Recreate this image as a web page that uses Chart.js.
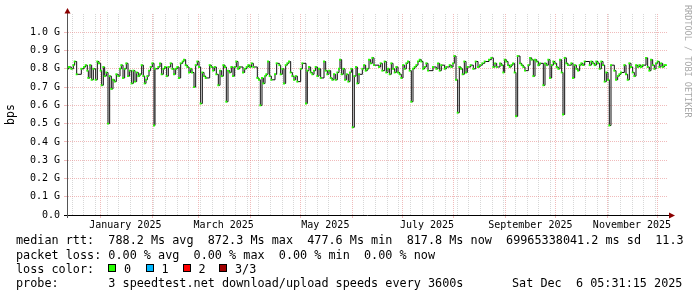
<!DOCTYPE html>
<html lang="en">
<head>
<meta charset="UTF-8">
<title>speedtest</title>
<script src="https://cdn.jsdelivr.net/npm/chart.js"></script>
<style>
  body { margin: 0; background: #fff; }
  #wrap { position: relative; width: 697px; height: 297px; overflow: hidden; font-family: 'DejaVu Sans Mono', monospace; }
  #wrap canvas { position: absolute; left: 0; top: 0; }
  .txt { position: absolute; font-size: 11.8px; line-height: 14.2px; white-space: pre; color: #000; }
  .box { position: absolute; width: 6px; height: 6px; border: 1px solid #000; }
  .stamp { position: absolute; left: 683px; top: 5px; writing-mode: vertical-rl; font-size: 8.5px; line-height: 10px; color: #a8a8a8; }
</style>
</head>
<body>
<div id="wrap">
  <canvas id="grafico" width="697" height="297"></canvas>
  <div class="stamp">RRDTOOL / TOBI OETIKER</div>
  <div class="txt" style="left:16px;top:233.4px">median rtt:  788.2 Ms avg  872.3 Ms max  477.6 Ms min  817.8 Ms now  69965338041.2 ms sd  11.3</div>
  <div class="txt" style="left:16px;top:247.6px">packet loss: 0.00 % avg  0.00 % max  0.00 % min  0.00 % now</div>
  <div class="txt" style="left:16px;top:261.8px">loss color:</div>
  <div id="loss"></div>
  <div class="txt" style="left:16px;top:276px">probe:       3 speedtest.net download/upload speeds every 3600s</div>
  <div class="txt" style="left:512px;top:276px">Sat Dec  6 05:31:15 2025</div>
</div>
<script>
// days counted from 1 Jan 2025, values in G bps (median of the speedtest)
const days = [
  -20.2, -18.8, -17.4, -16.2, -15.4, -14.2, -11.4, -9.8, -8.8, -7.8, -7.2, -6.2, -5.2, -4.2, -2.8, -1.8, -0.8,
  0.2, 0.8, 1.8, 2.6, 3.6, 4.6, 5.6, 6.6, 7.6, 8.6, 9.6, 10.8, 11.8, 12.6, 13.6, 14.6, 15.6, 16.6, 17.6, 18.8, 19.8,
  20.8, 21.8, 22.8, 23.8, 24.8, 25.8, 26.6, 27.4, 28.2, 29.2, 30.2, 31.2, 32.2, 32.8, 34.8, 35.8, 36.8, 37.8, 38.8, 39.8,
  40.8, 42.2, 43.2, 44.2, 45.2, 46.2, 47.2, 48.2, 49.4, 50.2, 51.2, 52.2, 53.2, 54.2, 55.0, 56.2, 57.2, 58.2, 59.2,
  60.2, 61.2, 62.2, 63.2, 65.6, 66.6, 67.6, 68.6, 69.6, 70.8, 71.8, 72.8, 73.8, 74.8, 75.6, 76.6, 77.6, 78.6, 79.6,
  80.6, 81.6, 82.6, 83.6, 85.6, 86.6, 87.8, 88.8, 89.8, 90.8, 91.8, 94.2, 95.2, 96.0, 97.0, 97.8, 98.8,
  99.6, 100.6, 101.6, 102.6, 104.8, 105.8, 107.4, 108.2, 109.2, 110.2, 111.2, 112.2, 113.2, 114.2, 115.2, 116.2, 117.2,
  118.2, 120.2, 121.2, 123.4, 124.2, 125.2, 126.2, 127.2, 128.2, 129.2, 130.2, 131.2, 132.2, 134.2, 135.2, 136.2,
  137.2, 138.2, 139.2, 140.2, 141.2, 142.2, 143.2, 143.8, 144.8, 145.8, 146.8, 147.8, 148.8, 149.8, 150.6, 151.4,
  152.4, 153.4, 154.2, 155.2, 157.2, 158.2, 159.2, 160.2, 161.2, 162.2, 163.2, 164.2, 167.2, 168.2, 169.2, 170.6,
  171.6, 172.6, 173.6, 174.6, 175.6, 176.6, 177.6, 178.6, 179.6, 180.6, 181.6, 182.6, 183.6, 184.6, 185.6, 186.6,
  187.6, 188.6, 189.6, 190.6, 191.6, 192.6, 193.6, 194.6, 195.6, 196.6, 199.6, 201.6, 202.6, 203.6, 204.6, 206.6,
  207.6, 209.6, 210.6, 211.6, 212.4, 213.4, 214.4, 215.4, 216.4, 217.4, 218.4,
  219.4, 220.2, 222.2, 223.8, 225.2, 226.6, 227.8, 229.2, 230.6, 233.2, 234.6, 235.8, 236.8, 237.8, 239.8, 240.8,
  241.8, 242.6, 243.6, 244.6, 245.6, 246.6, 247.6, 248.6, 249.4, 250.4, 251.8, 252.8, 253.8, 254.8, 256.8, 257.8,
  258.8, 259.8, 260.8, 261.8, 262.8, 263.8, 265.8, 266.8, 267.8, 268.8, 269.8, 270.8, 271.8, 272.8, 273.8, 274.8,
  275.8, 276.8, 277.6, 278.6, 279.6, 280.6, 282.6, 283.6, 284.6, 285.6, 286.6, 287.6, 288.6, 289.6, 290.6, 293.6,
  294.6, 295.6, 296.6, 297.6, 298.6, 299.6, 300.6, 301.6, 302.6, 303.6, 304.6, 305.4, 306.4, 308.4, 309.4, 310.4,
  311.4, 312.4, 314.4, 315.4, 316.4, 317.4, 318.4, 319.4, 320.4, 321.4, 322.4, 323.4, 324.4, 325.4, 327.4, 328.4,
  329.4, 330.4, 331.4, 332.4, 333.4, 334.4, 335.4, 336.4, 337.4, 338.4, 339.4
]
const medianG = [
  0.80, 0.81, 0.80, 0.82, 0.84, 0.77, 0.80, 0.81, 0.82, 0.79, 0.75, 0.82, 0.74, 0.80, 0.74, 0.84, 0.83,
  0.79, 0.71, 0.81, 0.76, 0.78, 0.50, 0.76, 0.69, 0.74, 0.73, 0.77, 0.76, 0.80, 0.82, 0.75, 0.80, 0.83, 0.76, 0.79, 0.72, 0.79,
  0.73, 0.78, 0.76, 0.77, 0.82, 0.76, 0.72, 0.74, 0.76, 0.79, 0.81, 0.83, 0.49, 0.80, 0.81, 0.83, 0.77, 0.80, 0.81, 0.76,
  0.81, 0.83, 0.80, 0.77, 0.80, 0.81, 0.75, 0.83, 0.84, 0.85, 0.82, 0.81, 0.78, 0.80, 0.78, 0.70, 0.82, 0.84, 0.81,
  0.61, 0.78, 0.76, 0.75, 0.82, 0.81, 0.79, 0.81, 0.77, 0.71, 0.79, 0.76, 0.82, 0.81, 0.62, 0.79, 0.78, 0.81, 0.76,
  0.81, 0.84, 0.80, 0.81, 0.78, 0.80, 0.81, 0.82, 0.81, 0.83, 0.81, 0.75, 0.74, 0.60, 0.75, 0.72, 0.76,
  0.77, 0.84, 0.76, 0.74, 0.77, 0.83, 0.82, 0.77, 0.80, 0.72, 0.82, 0.83, 0.84, 0.78, 0.76, 0.74, 0.76,
  0.73, 0.80, 0.83, 0.61, 0.79, 0.81, 0.78, 0.77, 0.79, 0.81, 0.76, 0.80, 0.75, 0.84, 0.79, 0.77,
  0.79, 0.75, 0.74, 0.77, 0.74, 0.78, 0.80, 0.85, 0.77, 0.80, 0.74, 0.77, 0.73, 0.78, 0.80, 0.48,
  0.76, 0.81, 0.72, 0.77, 0.80, 0.82, 0.79, 0.80, 0.85, 0.83, 0.86, 0.82, 0.81, 0.83, 0.79, 0.84,
  0.78, 0.80, 0.77, 0.83, 0.80, 0.78, 0.81, 0.78, 0.77, 0.75, 0.82, 0.80, 0.83, 0.84, 0.79, 0.62,
  0.80, 0.81, 0.82, 0.84, 0.85, 0.84, 0.80, 0.81, 0.83, 0.79, 0.81, 0.80, 0.83, 0.79, 0.82, 0.80,
  0.81, 0.82, 0.81, 0.83, 0.87, 0.74, 0.56, 0.81, 0.80, 0.77, 0.84,
  0.78, 0.81, 0.82, 0.80, 0.84, 0.81, 0.82, 0.83, 0.84, 0.85, 0.86, 0.81, 0.83, 0.81, 0.83, 0.82,
  0.78, 0.85, 0.84, 0.82, 0.81, 0.82, 0.83, 0.78, 0.54, 0.87, 0.83, 0.82, 0.81, 0.79, 0.82, 0.86,
  0.85, 0.76, 0.85, 0.84, 0.82, 0.83, 0.71, 0.83, 0.82, 0.85, 0.75, 0.82, 0.84, 0.83, 0.81, 0.80,
  0.85, 0.78, 0.55, 0.86, 0.83, 0.82, 0.83, 0.75, 0.82, 0.80, 0.79, 0.82, 0.83, 0.82, 0.84, 0.82,
  0.84, 0.83, 0.82, 0.84, 0.83, 0.80, 0.84, 0.82, 0.73, 0.78, 0.74, 0.49, 0.82, 0.79, 0.74, 0.76,
  0.77, 0.78, 0.82, 0.77, 0.74, 0.83, 0.81, 0.78, 0.76, 0.82, 0.81, 0.82, 0.81, 0.82, 0.86, 0.81,
  0.79, 0.85, 0.82, 0.80, 0.83, 0.84, 0.81, 0.83, 0.81, 0.82, 0.82
]

const yTicks = [0, 0.1, 0.2, 0.3, 0.4, 0.5, 0.6, 0.7, 0.8, 0.9, 1.0]
const monthStarts = [0, 31, 59, 90, 120, 151, 181, 212, 243, 273, 304, 334]
const labelDays = [15, 74, 135, 196, 258, 319]
const labelTexts = ['January 2025', 'March 2025', 'May 2025', 'July 2025', 'September 2025', 'November 2025']
const lossLabels = ['0', '1', '2', '3/3']
const lossColors = ['#26ff00', '#00b8ff', '#ff0000', '#a00000']

const xMin = -20
const xMax = 340
const corRede = 'rgba(225,120,120,0.5)'
const corCinza = 'rgba(150,150,150,0.38)'

// legenda das cores de perda
const lossBoxX = [108, 145.5, 182.5, 219]
const loss = document.getElementById('loss')
lossLabels.forEach((t, i) => {
  const b = document.createElement('div')
  b.className = 'box'
  b.style.left = lossBoxX[i] + 'px'
  b.style.top = '264.3px'
  b.style.background = lossColors[i]
  loss.appendChild(b)
  const s = document.createElement('div')
  s.className = 'txt'
  s.style.left = (lossBoxX[i] + 16) + 'px'
  s.style.top = '261.8px'
  s.textContent = t
  loss.appendChild(s)
})

// ticks do eixo x: inicio, semanas (domingo), meses e rotulos no meio do mes
let xTicks = [{ value: xMin, kind: 'start', text: '' }]
for (let d = -17; d < xMax; d += 7) {
  if (!monthStarts.includes(d)) xTicks.push({ value: d, kind: 'week', text: '' })
}
monthStarts.forEach(d => xTicks.push({ value: d, kind: 'month', text: '' }))
labelDays.forEach((d, i) => xTicks.push({ value: d, kind: 'label', text: labelTexts[i] }))
xTicks.sort((a, b) => a.value - b.value)

Chart.defaults.font.family = "'DejaVu Sans Mono'"
Chart.defaults.font.size = 10
Chart.defaults.color = '#000'

const setas = {
  id: 'setas',
  afterDraw(chart) {
    const { ctx, chartArea: a } = chart
    ctx.save()
    ctx.strokeStyle = '#000'
    ctx.lineWidth = 1
    ctx.beginPath()
    ctx.moveTo(a.right, 215.5)
    ctx.lineTo(670, 215.5)
    ctx.stroke()
    ctx.strokeStyle = '#555'
    ctx.beginPath()
    ctx.moveTo(67.5, a.top)
    ctx.lineTo(67.5, 12)
    ctx.stroke()
    ctx.fillStyle = '#8b0000'
    ctx.beginPath()
    ctx.moveTo(67.5, 8)
    ctx.lineTo(64.5, 13.5)
    ctx.lineTo(70.5, 13.5)
    ctx.closePath()
    ctx.fill()
    ctx.beginPath()
    ctx.moveTo(675, 215.5)
    ctx.lineTo(669, 212.5)
    ctx.lineTo(669, 218.5)
    ctx.closePath()
    ctx.fill()
    ctx.restore()
  }
}

const ctx = document.getElementById('grafico')
let grafico = new Chart(ctx, {
  type: 'line',
  data: {
    datasets: [{
      label: 'median rtt',
      data: days.map((d, i) => ({ x: d, y: medianG[i] })),
      stepped: 'before',
      borderColor: '#111',
      borderWidth: 1,
      pointStyle: 'rect',
      pointRadius: 1.35,
      pointBackgroundColor: lossColors[0],
      pointBorderWidth: 0,
      fill: false
    }]
  },
  options: {
    responsive: false,
    animation: false,
    devicePixelRatio: 1,
    layout: { padding: { top: 14, right: 30, bottom: 0, left: 0 } },
    plugins: { legend: { display: false }, tooltip: { enabled: false } },
    scales: {
      x: {
        type: 'linear',
        min: xMin,
        max: xMax,
        afterBuildTicks: s => { s.ticks = xTicks.map(t => ({ ...t })) },
        afterFit: s => { s.height = 82 },
        ticks: {
          autoSkip: false,
          maxRotation: 0,
          minRotation: 0,
          padding: 1,
          callback: (v, i, t) => t[i].text
        },
        grid: {
          color: c => c.tick && c.tick.kind === 'month' ? corRede : (c.tick && c.tick.kind === 'week' ? corCinza : 'rgba(0,0,0,0)'),
          tickColor: c => c.tick && c.tick.kind === 'month' ? corRede : (c.tick && c.tick.kind === 'start' ? '#555' : 'rgba(0,0,0,0)'),
          tickLength: 3
        },
        border: { color: '#000', dash: [1, 1] }
      },
      y: {
        min: 0,
        max: 1.1,
        afterBuildTicks: s => { s.ticks = yTicks.map(v => ({ value: v })) },
        afterFit: s => { s.width = 67 },
        ticks: {
          padding: 4,
          callback: v => v === 0 ? '0.0' : v.toFixed(1) + ' G'
        },
        grid: {
          color: c => c.tick && c.tick.value === 0 ? 'rgba(0,0,0,0)' : corRede,
          tickColor: c => c.tick && c.tick.value === 0 ? '#000' : corRede,
          tickLength: 3
        },
        border: { color: '#555', dash: [1, 1] },
        title: { display: true, text: 'bps', font: { size: 11.5 }, padding: { top: 4, bottom: 0 } }
      }
    }
  },
  plugins: [setas]
})
</script>
</body>
</html>
